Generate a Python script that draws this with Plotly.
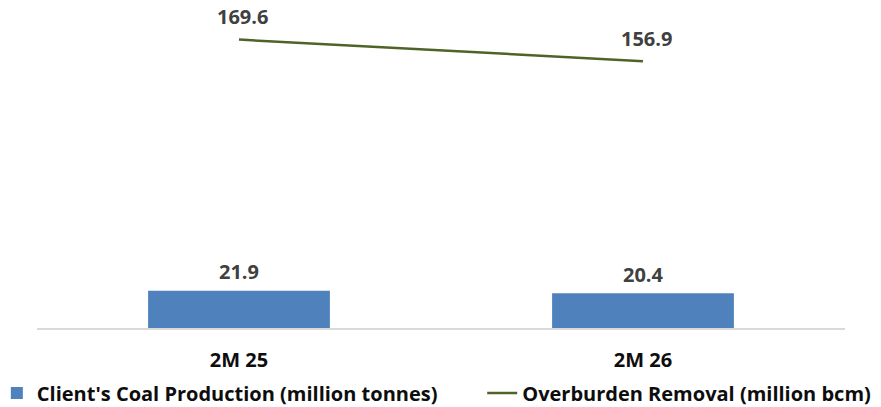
import plotly.graph_objects as go

categories = ["2M 25", "2M 26"]
coal_production = [21.9, 20.4]
overburden_removal = [169.6, 156.9]
coal_name = "Client's Coal Production (million tonnes)"
ob_name = "Overburden Removal (million bcm)"

FONT = "Open Sans"
fig = go.Figure()
fig.add_trace(go.Bar(
    x=categories, y=coal_production, name=f"<b>{coal_name}</b>",
    marker=dict(color="#4F81BD", line=dict(width=0)), width=0.45,
    legend="legend",
))
fig.add_trace(go.Scatter(
    x=categories, y=overburden_removal, name=f"<b>{ob_name}</b>", mode="lines",
    line=dict(color="#4F6228", width=2.5), legend="legend2",
))
for c, v in zip(categories, coal_production):
    fig.add_annotation(x=c, y=v, text=f"<b>{v}</b>", showarrow=False, yshift=19,
                       font=dict(family=FONT, size=20, color="#404040"))
for c, v in zip(categories, overburden_removal):
    fig.add_annotation(x=c, y=v, text=f"<b>{v}</b>", showarrow=False, yshift=23, xshift=3,
                       font=dict(family=FONT, size=20, color="#404040"))

legend_font = dict(family=FONT, size=20, color="#0D0D0D")
fig.update_layout(
    width=881, height=407,
    margin=dict(l=37, r=36, t=10, b=79, autoexpand=False),
    paper_bgcolor="white", plot_bgcolor="white",
    font=dict(family=FONT, size=16, color="#000000"),
    showlegend=True,
    legend=dict(orientation="h", x=-0.0497, xanchor="left", y=-0.2045, yanchor="middle",
                font=legend_font, bgcolor="rgba(0,0,0,0)"),
    legend2=dict(orientation="h", x=0.551, xanchor="left", y=-0.2045, yanchor="middle",
                 font=legend_font, bgcolor="rgba(0,0,0,0)"),
    xaxis=dict(showline=True, linecolor="#D9D9D9", linewidth=1.5, ticks="",
               tickfont=dict(family=FONT, size=20, color="#0D0D0D"),
               ticklabelstandoff=13),
    yaxis=dict(range=[0, 187], visible=False, showgrid=False, zeroline=False),
)
fig.update_xaxes(tickprefix="<b>", ticksuffix="</b>")
fig.write_html("out.html", config={"displayModeBar": False},
               post_script="document.body.style.margin='0';")
